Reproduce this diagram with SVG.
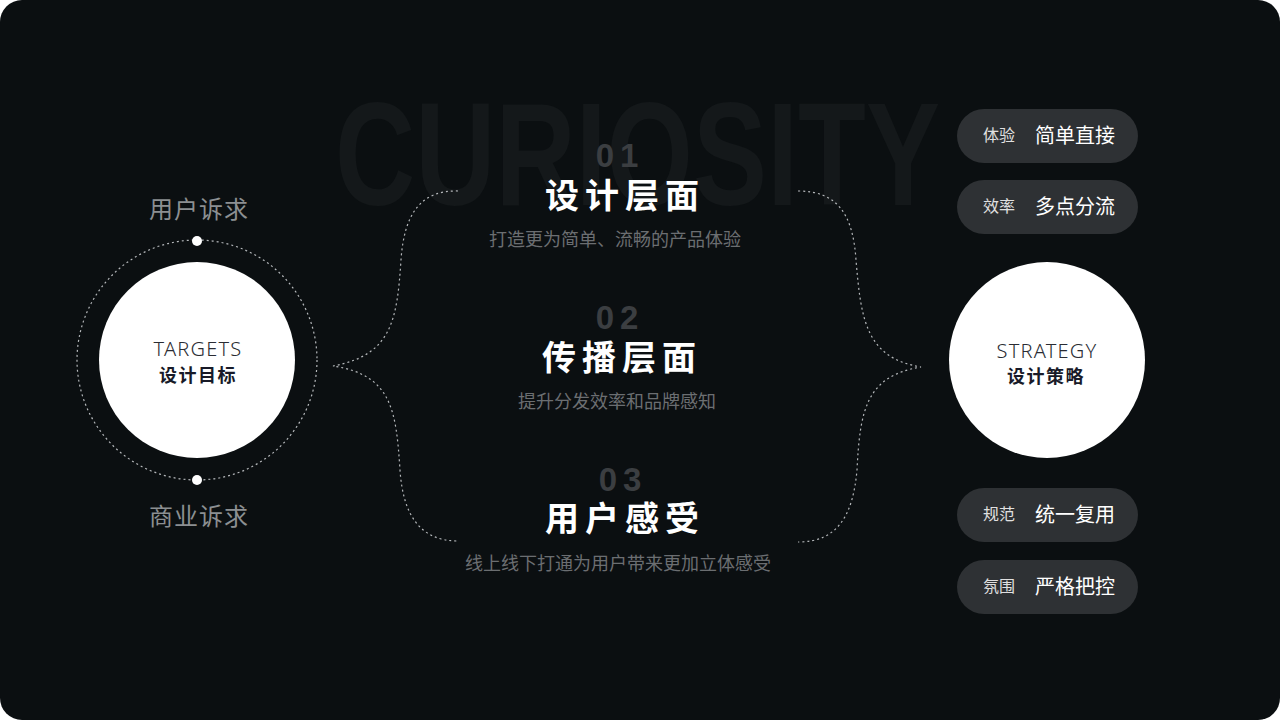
<svg xmlns="http://www.w3.org/2000/svg" width="1280" height="720" viewBox="0 0 1280 720">
<defs>
<style>
.cjk{font-family:"Noto Sans CJK SC","Liberation Sans",sans-serif}
.num{font-family:"Liberation Sans","Noto Sans CJK SC",sans-serif;font-weight:bold;font-size:33px;fill:#3b3e41;letter-spacing:6px;text-anchor:middle}
.title{font-family:"Noto Sans CJK SC",sans-serif;font-weight:bold;font-size:34px;fill:#ffffff;letter-spacing:6px;text-anchor:middle}
.sub{font-family:"Noto Sans CJK SC",sans-serif;font-size:18px;fill:#6b6e71;text-anchor:middle}
.side{font-family:"Noto Sans CJK SC",sans-serif;font-size:24px;fill:#8c8f92;letter-spacing:1px;text-anchor:middle}
.en{font-family:"Noto Sans","Liberation Sans",sans-serif;font-size:20px;font-weight:300;fill:#2a2c33;letter-spacing:1.2px;text-anchor:middle}
.cn{font-family:"Noto Sans CJK SC",sans-serif;font-size:18px;font-weight:bold;fill:#181a28;letter-spacing:1.5px;text-anchor:middle}
.pill{fill:#2e3134}
.pl{font-family:"Noto Sans CJK SC",sans-serif;font-size:16px;fill:#e0e0e0}
.pv{font-family:"Noto Sans CJK SC",sans-serif;font-size:20px;fill:#ffffff}
.dash{fill:none;stroke:#b5b8bb;stroke-width:1.2;stroke-dasharray:2 3}
</style>
</defs>
<rect x="0" y="0" width="1280" height="720" fill="#ffffff"/>
<rect x="0" y="0" width="1280" height="720" rx="22" fill="#0b0f11"/>
<text x="335" y="205" font-family="'Liberation Sans',sans-serif" font-weight="bold" font-size="146" fill="#14181a" textLength="605" lengthAdjust="spacingAndGlyphs">CURIOSITY</text>

<g id="connectors">
<circle cx="197" cy="360" r="120" class="dash"/>
<path class="dash" d="M458,191 C420,190 404,215 401,260 C397,320 392,355 333,366 C392,375 396,410 400,470 C403,515 420,541 458,541"/>
<path class="dash" d="M798,191 C838,191 853,215 856,260 C861,320 866,358 921,367 C866,376 860,410 857,470 C853,515 838,542 798,542"/>
</g>

<g id="targets">
<circle cx="197" cy="360" r="98" fill="#ffffff"/>
<text x="198" y="356" class="en">TARGETS</text>
<text x="198" y="382" class="cn">设计目标</text>
</g>
<g id="user-need">
<circle cx="197" cy="241" r="5" fill="#ffffff"/>
<text x="199" y="218" class="side">用户诉求</text>
</g>
<g id="biz-need">
<circle cx="197" cy="480" r="5" fill="#ffffff"/>
<text x="199" y="525" class="side">商业诉求</text>
</g>

<g id="item1">
<text x="620" y="167" class="num">01</text>
<text x="625" y="208" class="title">设计层面</text>
<text x="615" y="246" class="sub">打造更为简单、流畅的产品体验</text>
</g>
<g id="item2">
<text x="620" y="329" class="num">02</text>
<text x="622" y="370" class="title">传播层面</text>
<text x="617" y="408" class="sub">提升分发效率和品牌感知</text>
</g>
<g id="item3">
<text x="623" y="491" class="num">03</text>
<text x="625" y="531" class="title">用户感受</text>
<text x="618" y="570" class="sub">线上线下打通为用户带来更加立体感受</text>
</g>

<g id="strategy">
<circle cx="1047" cy="360" r="98" fill="#ffffff"/>
<text x="1047" y="358" class="en">STRATEGY</text>
<text x="1046" y="383" class="cn">设计策略</text>
</g>

<g id="pill1">
<rect x="957" y="109" width="181" height="54" rx="27" class="pill"/>
<text x="983" y="141" class="pl">体验</text>
<text x="1035" y="143" class="pv">简单直接</text>
</g>
<g id="pill2">
<rect x="957" y="180" width="181" height="54" rx="27" class="pill"/>
<text x="983" y="212" class="pl">效率</text>
<text x="1035" y="214" class="pv">多点分流</text>
</g>
<g id="pill3">
<rect x="957" y="488" width="181" height="54" rx="27" class="pill"/>
<text x="983" y="520" class="pl">规范</text>
<text x="1035" y="522" class="pv">统一复用</text>
</g>
<g id="pill4">
<rect x="957" y="560" width="181" height="54" rx="27" class="pill"/>
<text x="983" y="592" class="pl">氛围</text>
<text x="1035" y="594" class="pv">严格把控</text>
</g>
</svg>
